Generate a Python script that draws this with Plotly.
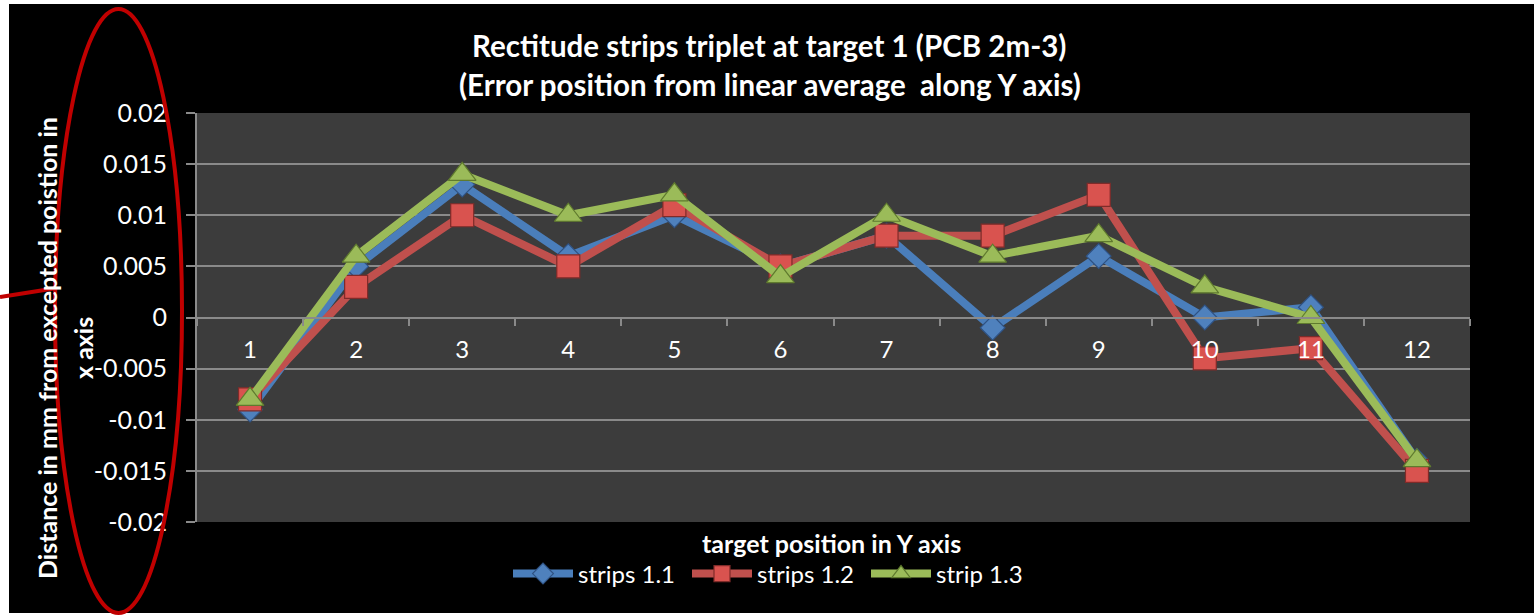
import plotly.graph_objects as go

# ---- data ----
target_positions = ["1", "2", "3", "4", "5", "6", "7", "8", "9", "10", "11", "12"]
strips_1_1 = [-0.009, 0.005, 0.013, 0.006, 0.010, 0.005, 0.008, -0.001, 0.006, 0.000, 0.001, -0.014]
strips_1_2 = [-0.008, 0.003, 0.010, 0.005, 0.011, 0.005, 0.008, 0.008, 0.012, -0.004, -0.003, -0.015]
strip_1_3 = [-0.008, 0.006, 0.014, 0.010, 0.012, 0.004, 0.010, 0.006, 0.008, 0.003, 0.000, -0.014]
y_tick_values = [0.02, 0.015, 0.01, 0.005, 0, -0.005, -0.01, -0.015, -0.02]
y_tick_labels = ["0.02", "0.015", "0.01", "0.005", "0", "-0.005", "-0.01", "-0.015", "-0.02"]

W, H = 1536, 615
L, R, T, B = 197, 1470, 113, 522   # plot area in pixels
PW, PH = R - L, B - T


def px(x):
    return (x - L) / PW


def py(y):
    return (B - y) / PH


FONT = "Lato"
GRID = "#8a8a8a"

fig = go.Figure()

series = [
    ("strips 1.1", strips_1_1, "#4a7ebb", "#4f81bd", "#2f5283", "diamond", 19),
    ("strips 1.2", strips_1_2, "#c0504d", "#d9534f", "#7f2b29", "square", 23),
    ("strip 1.3", strip_1_3, "#9bbb59", "#9bbb59", "#5f7a2e", "triangle-up", 24),
]
for name, vals, lc, mc, ml, sym, size in series:
    fig.add_trace(go.Scatter(
        x=target_positions, y=vals, name=name, mode="lines+markers",
        line=dict(color=lc, width=8),
        marker=dict(symbol=sym, size=size, color=mc, line=dict(color=ml, width=1.2)),
    ))

fig.update_layout(
    width=W, height=H,
    margin=dict(l=L, r=W - R, t=T, b=H - B, autoexpand=False),
    paper_bgcolor="black",
    plot_bgcolor="#3c3c3c",
    font=dict(family=FONT, color="white", size=24),
    showlegend=True,
    legend=dict(orientation="h", x=px(508), y=py(574), xanchor="left", yanchor="middle",
                font=dict(family=FONT, size=24, color="white"),
                bgcolor="rgba(0,0,0,0)", itemwidth=60, entrywidth=104, entrywidthmode="pixels",
                tracegroupgap=0),
    xaxis=dict(
        type="category", anchor="free", position=0.5, range=[-0.5, 11.5],
        showgrid=False, showline=True, linecolor=GRID, linewidth=2,
        ticks="outside", tickson="boundaries", ticklen=7, tickcolor=GRID, tickwidth=2,
        tickfont=dict(family=FONT, size=24, color="white"), ticklabelstandoff=11,
        zeroline=False, fixedrange=True,
    ),
    yaxis=dict(
        range=[-0.02, 0.02], domain=[0, 1],
        tickvals=y_tick_values, ticktext=y_tick_labels,
        showgrid=True, gridcolor=GRID, gridwidth=2,
        showline=True, linecolor=GRID, linewidth=2,
        ticks="outside", ticklen=9, tickcolor=GRID, tickwidth=2,
        tickfont=dict(family=FONT, size=25, color="white"), ticklabelstandoff=14,
        zeroline=False, fixedrange=True,
    ),
)

ann = [
    ("<b>Rectitude strips triplet at target 1 (PCB 2m-3)</b>", 769, 46, 29.5, 0),
    ("<b>(Error position from linear average  along Y axis)</b>", 770, 84, 29.5, 0),
    ("<b>target position in Y axis</b>", 831, 543, 25, 0),
    ("<b>Distance in mm from excepted poistion in</b>", 47, 348, 25, -90),
    ("<b>x axis</b>", 83, 348, 25, -90),
]
for text, x, y, size, ang in ann:
    fig.add_annotation(text=text, xref="paper", yref="paper", x=px(x), y=py(y),
                       xanchor="center", yanchor="middle", showarrow=False, textangle=ang,
                       font=dict(family=FONT, size=size, color="white"))

# white frame around the black panel
white = dict(type="rect", xref="paper", yref="paper", fillcolor="white", line=dict(width=0), layer="above")
fig.add_shape(x0=px(0), x1=px(9), y0=py(615), y1=py(0), **white)
fig.add_shape(x0=px(0), x1=px(1536), y0=py(4), y1=py(0), **white)
fig.add_shape(x0=px(1534), x1=px(1536), y0=py(615), y1=py(0), **white)
fig.add_shape(x0=px(0), x1=px(1536), y0=py(615), y1=py(613), **white)

# red highlighting ellipse and pointer
fig.add_shape(type="circle", xref="paper", yref="paper", x0=px(55), x1=px(182), y0=py(613), y1=py(9),
              line=dict(color="#c00000", width=4), layer="above")
fig.add_shape(type="line", xref="paper", yref="paper", x0=px(0), y0=py(297), x1=px(57), y1=py(288),
              line=dict(color="#c00000", width=4), layer="above")

fig.write_html("out.html", config={"displayModeBar": False},
               post_script="document.body.style.margin='0';document.body.style.overflow='hidden';")
